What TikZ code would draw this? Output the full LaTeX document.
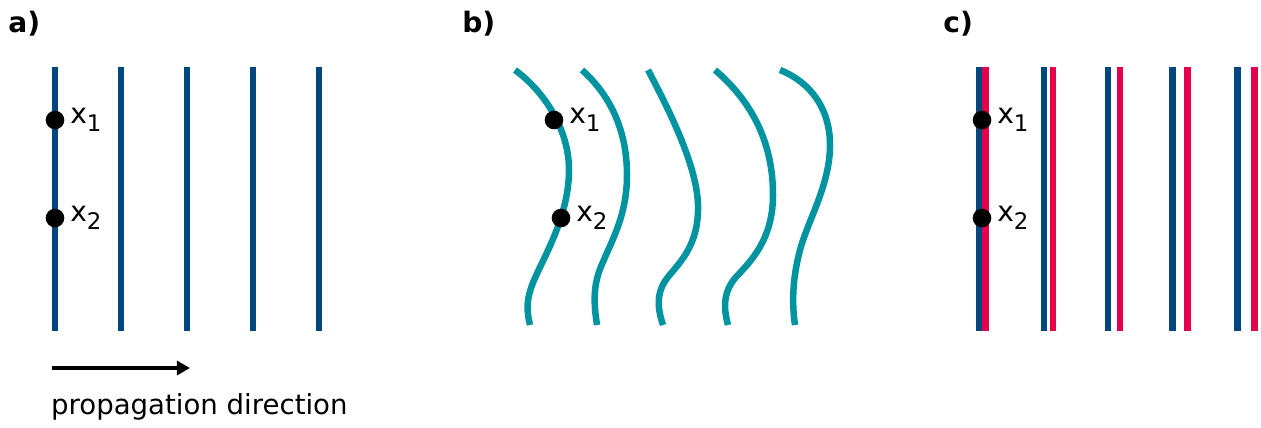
\documentclass[tikz,border=0pt]{standalone}
\usepackage{fontspec}
\setmainfont{DejaVu Sans}
\usetikzlibrary{positioning,arrows.meta}
\definecolor{frenteAzul}{HTML}{00467F}
\definecolor{frenteTurquesa}{HTML}{0093A0}
\definecolor{frenteRojo}{HTML}{E6004C}
\newcommand{\xsub}[1]{x\raisebox{-0.55ex}{\fontsize{13}{14}\selectfont #1}}

\begin{document}
\begin{tikzpicture}[
        x=0.02cm, y=-0.02cm,
        frente/.style={line width=3.7pt, draw=frenteAzul},
        frenteCurva/.style={line width=3.7pt, draw=frenteTurquesa},
        frenteDos/.style={line width=3.7pt, draw=frenteRojo},
        punto/.style={circle, fill=black, inner sep=0pt, minimum size=10.6pt},
        etiqueta/.style={font=\fontsize{16}{18}\selectfont, inner sep=1pt},
        panel/.style={font=\fontsize{16}{18}\selectfont\bfseries, inner sep=0pt, anchor=north west},
        flecha/.style={-{Triangle[length=7.5pt, width=8pt]}, line width=2.7pt}
    ]
        \useasboundingbox (0,0) rectangle (1261,427);

        % a) frentes planos
        \node[panel] (pa) at (8,11) {a)};
        \foreach \x in {55,121,187,253,319}
            \draw[frente] (\x,67) -- (\x,331);
        \node[punto] (a1) at (55,120) {};
        \node[punto] (a2) at (55,218) {};
        \node[etiqueta, right=2pt of a1] (la1) {\xsub{1}};
        \node[etiqueta, right=2pt of a2] (la2) {\xsub{2}};
        \coordinate (ini) at (52,368);
        \coordinate (fin) at (190,368);
        \draw[flecha] (ini) -- (fin);
        \node[etiqueta, font=\fontsize{15.7}{18}\selectfont, anchor=base west] (dir) at (49,414) {propagation direction};

        % b) frentes deformados
        \node[panel] (pb) at (462,11) {b)};
        \draw[frenteCurva] (515,70) .. controls (545,92) and (569,130) .. (569,170)
            .. controls (569,215) and (545,255) .. (535,278)
            .. controls (525,300) and (527,312) .. (530,325);
        \draw[frenteCurva] (582,70) .. controls (610,95) and (627,130) .. (627,175)
            .. controls (627,215) and (612,240) .. (603,262)
            .. controls (592,285) and (594,305) .. (597,325);
        \draw[frenteCurva] (648,70) .. controls (668,108) and (697,165) .. (698,205)
            .. controls (699,245) and (680,262) .. (668,277)
            .. controls (655,293) and (658,310) .. (663,325);
        \draw[frenteCurva] (715,70) .. controls (750,100) and (773,140) .. (773,195)
            .. controls (773,240) and (750,262) .. (736,277)
            .. controls (722,293) and (724,310) .. (728,325);
        \draw[frenteCurva] (780,70) .. controls (810,82) and (830,108) .. (830,145)
            .. controls (830,185) and (808,220) .. (800,250)
            .. controls (792,280) and (792,305) .. (795,325);
        \node[punto] (b1) at (554,120) {};
        \node[punto] (b2) at (561,218) {};
        \node[etiqueta, right=2pt of b1] (lb1) {\xsub{1}};
        \node[etiqueta, right=2pt of b2] (lb2) {\xsub{2}};

        % c) dos frentes desplazados
        \node[panel] (pc) at (943,11) {c)};
        \foreach \x/\r in {979/985.5,1044/1053,1108/1120,1172.5/1187.5,1237.5/1254.5}{
            \draw[frente] (\x,67) -- (\x,331);
            \draw[frenteDos] (\r,67) -- (\r,331);
        }
        \node[punto] (c1) at (982,120) {};
        \node[punto] (c2) at (982,218) {};
        \node[etiqueta, right=2pt of c1] (lc1) {\xsub{1}};
        \node[etiqueta, right=2pt of c2] (lc2) {\xsub{2}};
    \end{tikzpicture}
\end{document}
